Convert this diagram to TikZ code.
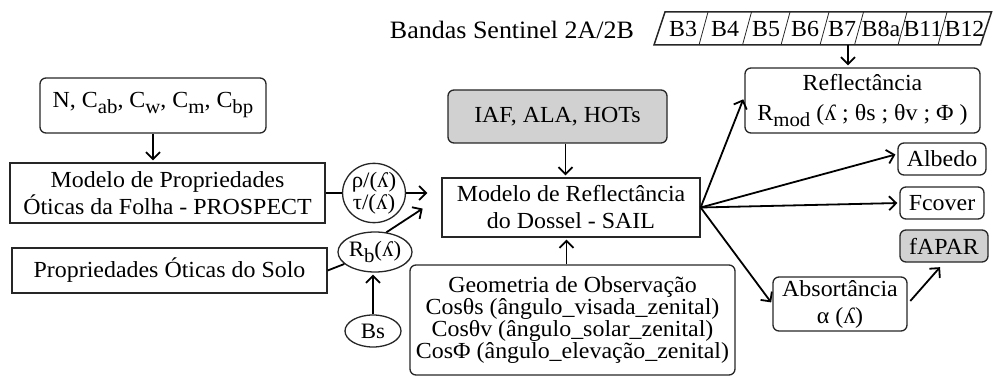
\documentclass[tikz,border=0pt]{standalone}
\usepackage{fontspec}
\setmainfont{Liberation Serif}[FakeStretch=1.04]
\usepackage{tikz}
\usetikzlibrary{arrows.meta,shapes.geometric,positioning}

\newcommand{\sbx}[1]{\raisebox{-6pt}{\fontsize{20}{20}\selectfont #1}}

\begin{document}
\begin{tikzpicture}
	[x=1pt,y=-1pt,
	caixa/.style={draw=black!85,line width=1.3pt,inner sep=2pt,align=center,
		font=\fontsize{23}{27}\selectfont},
	caixar/.style={caixa,rounded corners=6pt},
	cinza/.style={caixar,fill=black!18},
	elipse/.style={ellipse,draw=black!85,line width=1.3pt,inner sep=0pt,align=center,
		font=\fontsize{22}{22}\selectfont},
	banda/.style={font=\fontsize{23}{24}\selectfont,inner sep=0pt},
	seta/.style={line width=1.8pt,shorten >=2pt,-{Straight Barb[length=7pt,width=14pt]}},
	linha/.style={line width=1.8pt}]
	\useasboundingbox (0,0) rectangle (994,377);
	%bandas
	\node (titulo) at (512,30) [font=\fontsize{25}{26}\selectfont] {Bandas Sentinel 2A/2B};
	\draw[black!85,line width=1.5pt] (654,45) -- (665,12) -- (991.5,12) -- (980.5,45) -- cycle;
	\draw[black!85,line width=0.8pt] (699,45) -- (708,12) (742.5,45) -- (751.5,12)
		(781,45) -- (790,12) (820,45) -- (829,12) (854.5,45) -- (863.5,12)
		(898,45) -- (907,12) (938,45) -- (947,12);
	\node (b3) at (683,29) [banda] {B3};
	\node (b4) at (725,29) [banda] {B4};
	\node (b5) at (766,29) [banda] {B5};
	\node (b6) at (805,29) [banda] {B6};
	\node (b7) at (842,29) [banda] {B7};
	\node (b8a) at (881,29) [banda] {B8a};
	\node (b11) at (923,29) [banda] {B11};
	\node (b12) at (964.5,29) [banda] {B12};
	\coordinate (saida) at (848,45);
	%entradas
	\node (ncab) at (153,105.5) [caixar,minimum width=226pt,minimum height=55pt] {N, C\sbx{ab}, C\sbx{w}, C\sbx{m}, C\sbx{bp}};
	\node (prospect) at (167.5,193) [caixa,minimum width=315pt,minimum height=60pt] {Modelo de Propriedades\\Óticas da Folha - PROSPECT};
	\node (rhotau) at (374,193) [elipse,minimum width=62pt,minimum height=56pt] {ρ/(ʎ)\\τ/(ʎ)};
	\node (solo) at (169.5,270.5) [caixa,minimum width=315pt,minimum height=45pt] {Propriedades Óticas do Solo};
	\node (rb) at (375,252) [elipse,minimum width=64pt,minimum height=40pt] {R\sbx{b}(ʎ)};
	\node (bs) at (373,331) [elipse,minimum width=56pt,minimum height=32pt] {Bs};
	\node (iaf) at (557.5,116.5) [cinza,minimum width=219pt,minimum height=53pt] {IAF, ALA, HOTs};
	\node (sail) at (571,207.5) [caixa,minimum width=258pt,minimum height=59pt] {Modelo de Reflectância\\do Dossel - SAIL};
	\node (geo) at (572.5,320) [caixar,minimum width=325pt,minimum height=110pt,font=\fontsize{23}{22}\selectfont] {Geometria de Observação\\Cosθs (ângulo\_visada\_zenital)\\Cosθv (ângulo\_solar\_zenital)\\CosΦ (ângulo\_elevação\_zenital)};
	%saidas
	\node (refl) at (862.5,100.5) [caixar,minimum width=235pt,minimum height=65pt,font=\fontsize{23}{30}\selectfont] {Reflectância\\R\sbx{mod} (ʎ ; θs ; θv ; Φ )};
	\node (albedo) at (942,159) [caixar,minimum width=88pt,minimum height=32pt] {Albedo};
	\node (fcover) at (942,203) [caixar,minimum width=84pt,minimum height=32pt] {Fcover};
	\node (fapar) at (944,246) [cinza,minimum width=88pt,minimum height=32pt] {fAPAR};
	\node (absor) at (840,304) [caixar,minimum width=134pt,minimum height=54pt] {Absortância\\α (ʎ)};
	%ligacoes
	\draw[seta] (saida) -- (saida |- refl.north);
	\draw[seta] (ncab.south) -- (ncab.south |- prospect.north);
	\draw[linha] (prospect.east) -- (rhotau.west);
	\draw[seta,shorten >=14pt] (rhotau.east) -- (rhotau.east -| sail.west);
	\draw[linha] (solo.east) -- (rb);
	\draw[seta] (rb.60) -- ([xshift=-17pt]sail.west);
	\draw[seta] (bs.north) -- (bs.north |- rb.south);
	\draw[seta] ([xshift=8pt]iaf.south) -- ([xshift=8pt]iaf.south |- sail.north);
	\draw[seta] ([xshift=-6pt]geo.north) -- ([xshift=-6pt]geo.north |- sail.south);
	\draw[seta,shorten >=3pt] (sail.east) -- ([yshift=4pt]refl.west);
	\draw[seta] (sail.east) -- ([yshift=5pt]albedo.west);
	\draw[seta] (sail.east) -- (fcover.west);
	\draw[seta] (sail.east) -- (absor.west);
	\draw[seta,shorten <=4pt,shorten >=6pt] (absor.east) -- (fapar.south);
\end{tikzpicture}
\end{document}
